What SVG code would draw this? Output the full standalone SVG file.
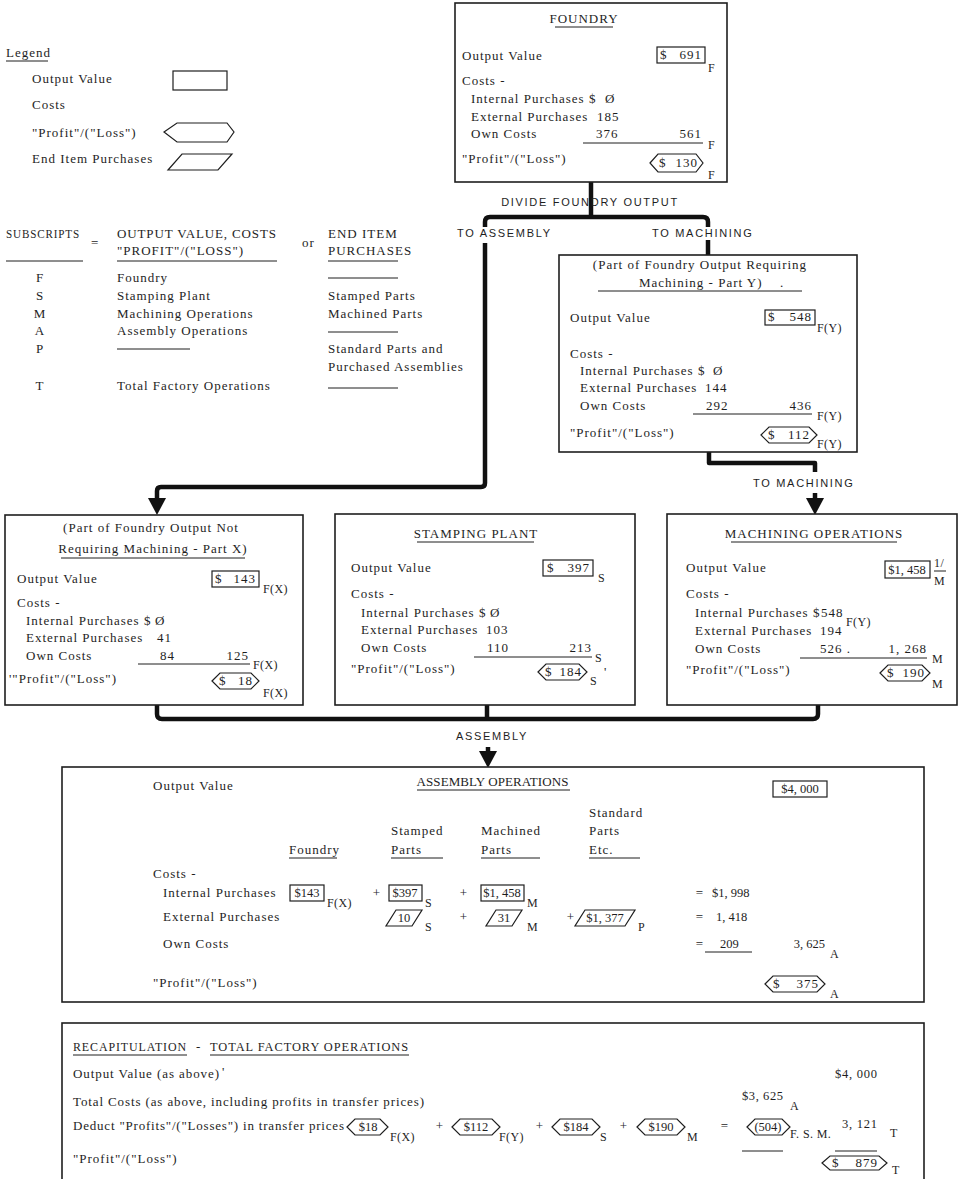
<svg xmlns="http://www.w3.org/2000/svg" width="961" height="1179" viewBox="0 0 961 1179">
<style>
text{font-family:"Liberation Serif","Times New Roman",serif;font-size:13px;letter-spacing:1px;fill:#1e1e1e}
.sub{font-size:12px;letter-spacing:0.4px}
.sans{font-family:"Liberation Sans",Arial,sans-serif;font-size:11px;letter-spacing:1.7px}
.mid{text-anchor:middle}
.end{text-anchor:end}
.cond{letter-spacing:0px;font-size:12.5px}
.box{fill:#fff;stroke:#1e1e1e;stroke-width:1.6}
.fr{fill:none;stroke:#1e1e1e;stroke-width:1.2}
.ln{stroke:#1e1e1e;stroke-width:1}
.conn{fill:none;stroke:#111;stroke-width:4.5;stroke-linejoin:round;stroke-linecap:butt}
.arrow{fill:#111}
</style>
<rect width="961" height="1179" fill="#fff"/>

<!-- legend -->
<g id="legend">
<text x="6" y="57">Legend</text>
<line class="ln" x1="6" y1="61" x2="48" y2="61"/>
<text x="32" y="83">Output Value</text>
<rect class="fr" x="173" y="71" width="54" height="19"/>
<text x="32" y="109">Costs</text>
<text x="32" y="137">"Profit"/("Loss")</text>
<polygon class="fr" points="164,132 177,123 227,123 234,132 227,142 177,142"/>
<text x="32" y="163">End Item Purchases</text>
<polygon class="fr" points="182,154 232,154 218,170 168,170"/>
</g>

<!-- subscript key -->
<g id="subscripts">
<text x="6" y="238" textLength="74" lengthAdjust="spacingAndGlyphs">SUBSCRIPTS</text>
<line class="ln" x1="6" y1="261" x2="83" y2="261"/>
<text x="91" y="247">=</text>
<text x="117" y="238" textLength="160">OUTPUT VALUE, COSTS</text>
<text x="117" y="255">"PROFIT"/("LOSS")</text>
<line class="ln" x1="117" y1="261" x2="277" y2="261"/>
<text x="302" y="247">or</text>
<text x="328" y="238">END ITEM</text>
<text x="328" y="255">PURCHASES</text>
<line class="ln" x1="328" y1="261" x2="398" y2="261"/>
<text class="mid" x="40" y="282">F</text>
<text class="mid" x="40" y="300">S</text>
<text class="mid" x="40" y="318">M</text>
<text class="mid" x="40" y="335">A</text>
<text class="mid" x="40" y="353">P</text>
<text class="mid" x="40" y="390">T</text>
<text x="117" y="282">Foundry</text>
<text x="117" y="300">Stamping Plant</text>
<text x="117" y="318">Machining Operations</text>
<text x="117" y="335">Assembly Operations</text>
<line class="ln" x1="117" y1="349" x2="190" y2="349"/>
<text x="117" y="390">Total Factory Operations</text>
<line class="ln" x1="328" y1="278" x2="398" y2="278"/>
<text x="328" y="300">Stamped Parts</text>
<text x="328" y="318">Machined Parts</text>
<line class="ln" x1="328" y1="332" x2="398" y2="332"/>
<text x="328" y="353">Standard Parts and</text>
<text x="328" y="371">Purchased Assemblies</text>
<line class="ln" x1="328" y1="388" x2="398" y2="388"/>
</g>

<!-- connectors -->
<g id="connectors">
<path class="conn" d="M591,182 V217"/>
<path class="conn" d="M485,227 V222 Q485,217 490,217 H703 Q708,217 708,222 V227"/>
<path class="conn" d="M485,243 V483 Q485,487 481,487 H161 Q157,487 157,491 V500"/>
<polygon class="arrow" points="148,498 166,498 157,515"/>
<path class="conn" d="M708,240 V256"/>
<path class="conn" d="M709,452 V463 H815 V472"/>
<path class="conn" d="M815,493 V500"/>
<polygon class="arrow" points="806,498 824,498 815,515"/>
<path class="conn" d="M157,705 V714 Q157,719 162,719 H813 Q818,719 818,714 V705"/>
<path class="conn" d="M487,705 V719"/>
<path class="conn" d="M488,747 V753"/>
<polygon class="arrow" points="479,751 497,751 488,768"/>
<text class="sans mid" x="590" y="206">DIVIDE FOUNDRY OUTPUT</text>
<text class="sans" x="457" y="237">TO ASSEMBLY</text>
<text class="sans" x="652" y="237">TO MACHINING</text>
<text class="sans" x="753" y="487">TO MACHINING</text>
<text class="sans mid" x="492" y="740">ASSEMBLY</text>
</g>

<!-- foundry -->
<g id="foundry">
<rect class="box" x="455" y="3" width="272" height="179"/>
<text class="mid" x="584" y="23">FOUNDRY</text>
<line class="ln" x1="555" y1="27" x2="613" y2="27"/>
<text x="462" y="60">Output Value</text>
<rect class="fr" x="657" y="47" width="48" height="16"/>
<text x="660" y="59">$</text>
<text class="end" x="702" y="59">691</text>
<text class="sub" x="708" y="72">F</text>
<text x="462" y="85">Costs -</text>
<text x="471" y="103">Internal Purchases $</text>
<text x="605" y="103">Ø</text>
<text x="471" y="121">External Purchases</text>
<text x="597" y="121">185</text>
<text x="471" y="138">Own Costs</text>
<text x="596" y="138">376</text>
<text class="end" x="702" y="138">561</text>
<line class="ln" x1="583" y1="143" x2="703" y2="143"/>
<text class="sub" x="708" y="149">F</text>
<text x="462" y="163">"Profit"/("Loss")</text>
<polygon class="fr" points="650,163 658,154 696,154 703,163 696,172 658,172"/>
<text x="659" y="167">$</text>
<text class="end" x="698" y="167">130</text>
<text class="sub" x="708" y="179">F</text>
</g>

<!-- foundry output, part Y -->
<g id="part-y">
<rect class="box" x="559" y="255" width="298" height="197"/>
<text class="mid" x="700" y="269">(Part of Foundry Output Requiring</text>
<text x="639" y="287">Machining - Part Y)</text>
<text x="780" y="287">.</text>
<line class="ln" x1="598" y1="291" x2="802" y2="291"/>
<text x="570" y="322">Output Value</text>
<rect class="fr" x="765" y="310" width="50" height="15"/>
<text x="768" y="321">$</text>
<text class="end" x="812" y="321">548</text>
<text class="sub" x="817" y="332">F(Y)</text>
<text x="570" y="358">Costs -</text>
<text x="580" y="375">Internal Purchases $</text>
<text x="713" y="375">Ø</text>
<text x="580" y="392">External Purchases</text>
<text x="705" y="392">144</text>
<text x="580" y="410">Own Costs</text>
<text x="706" y="410">292</text>
<text class="end" x="812" y="410">436</text>
<line class="ln" x1="693" y1="414" x2="812" y2="414"/>
<text class="sub" x="817" y="420">F(Y)</text>
<text x="570" y="437">"Profit"/("Loss")</text>
<polygon class="fr" points="761,435 769,427 809,427 817,435 809,443 769,443"/>
<text x="768" y="439">$</text>
<text class="end" x="810" y="439">112</text>
<text class="sub" x="817" y="448">F(Y)</text>
</g>

<!-- foundry output, part X -->
<g id="part-x">
<rect class="box" x="5" y="515" width="298" height="190"/>
<text class="mid" x="151" y="532">(Part of Foundry Output Not</text>
<text class="mid" x="153" y="553">Requiring Machining - Part X)</text>
<line class="ln" x1="61" y1="558" x2="245" y2="558"/>
<text x="17" y="583">Output Value</text>
<rect class="fr" x="212" y="571" width="47" height="16"/>
<text x="215" y="583">$</text>
<text class="end" x="256" y="583">143</text>
<text class="sub" x="263" y="593">F(X)</text>
<text x="17" y="607">Costs -</text>
<text x="26" y="625">Internal Purchases $</text>
<text x="155" y="625">Ø</text>
<text x="26" y="642">External Purchases</text>
<text x="157" y="642">41</text>
<text x="26" y="660">Own Costs</text>
<text x="160" y="660">84</text>
<text class="end" x="249" y="660">125</text>
<line class="ln" x1="138" y1="664" x2="250" y2="664"/>
<text class="sub" x="253" y="669">F(X)</text>
<text x="9" y="683">'"Profit"/("Loss")</text>
<polygon class="fr" points="212,681 220,673 251,673 259,681 251,689 220,689"/>
<text x="219" y="685">$</text>
<text class="end" x="253" y="685">18</text>
<text class="sub" x="263" y="697">F(X)</text>
</g>

<!-- stamping plant -->
<g id="stamping">
<rect class="box" x="335" y="514" width="300" height="191"/>
<text class="mid" x="476" y="538">STAMPING PLANT</text>
<line class="ln" x1="417" y1="542" x2="534" y2="542"/>
<text x="351" y="572">Output Value</text>
<rect class="fr" x="543" y="560" width="50" height="16"/>
<text x="547" y="572">$</text>
<text class="end" x="590" y="572">397</text>
<text class="sub" x="598" y="582">S</text>
<text x="351" y="598">Costs -</text>
<text x="361" y="617">Internal Purchases $</text>
<text x="490" y="617">Ø</text>
<text x="361" y="634">External Purchases</text>
<text x="486" y="634">103</text>
<text x="361" y="652">Own Costs</text>
<text x="487" y="652">110</text>
<text class="end" x="592" y="652">213</text>
<line class="ln" x1="474" y1="657" x2="592" y2="657"/>
<text class="sub" x="595" y="662">S</text>
<text x="351" y="673">"Profit"/("Loss")</text>
<polygon class="fr" points="538,672 546,664 579,664 587,672 579,680 546,680"/>
<text x="545" y="676">$</text>
<text class="end" x="582" y="676">184</text>
<text class="sub" x="590" y="685">S</text>
<text x="604" y="676">'</text>
</g>

<!-- machining operations -->
<g id="machining">
<rect class="box" x="667" y="514" width="290" height="191"/>
<text class="mid" x="814" y="538">MACHINING OPERATIONS</text>
<line class="ln" x1="731" y1="542" x2="897" y2="542"/>
<text x="686" y="572">Output Value</text>
<rect class="fr" x="885" y="561" width="45" height="17"/>
<text class="mid cond" x="907" y="574">$1, 458</text>
<text class="sub" x="934" y="567">1/</text>
<line class="ln" x1="934" y1="571" x2="946" y2="571"/>
<text class="sub" x="934" y="585">M</text>
<text x="686" y="598">Costs -</text>
<text x="695" y="617">Internal Purchases $</text>
<text x="821" y="617">548</text>
<text class="sub" x="846" y="626">F(Y)</text>
<text x="695" y="635">External Purchases</text>
<text x="820" y="635">194</text>
<text x="695" y="653">Own Costs</text>
<text x="820" y="653">526 .</text>
<text class="end" x="927" y="653">1, 268</text>
<line class="ln" x1="800" y1="658" x2="927" y2="658"/>
<text class="sub" x="932" y="663">M</text>
<text x="686" y="674">"Profit"/("Loss")</text>
<polygon class="fr" points="880,673 888,665 922,665 930,673 922,681 888,681"/>
<text x="887" y="677">$</text>
<text class="end" x="925" y="677">190</text>
<text class="sub" x="932" y="688">M</text>
</g>

<!-- assembly operations -->
<g id="assembly">
<rect class="box" x="62" y="767" width="862" height="235"/>
<text x="153" y="790">Output Value</text>
<text class="mid" x="493" y="786" textLength="153">ASSEMBLY OPERATIONS</text>
<line class="ln" x1="417" y1="790" x2="570" y2="790"/>
<rect class="fr" x="773" y="781" width="54" height="16"/>
<text class="mid cond" x="800" y="793">$4, 000</text>
<text x="589" y="817">Standard</text>
<text x="391" y="835">Stamped</text>
<text x="481" y="835">Machined</text>
<text x="589" y="835">Parts</text>
<text x="289" y="854">Foundry</text>
<line class="ln" x1="289" y1="858" x2="337" y2="858"/>
<text x="391" y="854">Parts</text>
<line class="ln" x1="391" y1="858" x2="443" y2="858"/>
<text x="481" y="854">Parts</text>
<line class="ln" x1="481" y1="858" x2="540" y2="858"/>
<text x="589" y="854">Etc.</text>
<line class="ln" x1="589" y1="858" x2="640" y2="858"/>
<text x="153" y="878">Costs -</text>
<text x="163" y="897">Internal Purchases</text>
<rect class="fr" x="290" y="885" width="34" height="16"/>
<text class="mid cond" x="307" y="897">$143</text>
<text class="sub" x="327" y="907">F(X)</text>
<text class="mid" x="377" y="897">+</text>
<rect class="fr" x="389" y="885" width="33" height="16"/>
<text class="mid cond" x="405" y="897">$397</text>
<text class="sub" x="425" y="907">S</text>
<text class="mid" x="464" y="897">+</text>
<rect class="fr" x="481" y="885" width="43" height="16"/>
<text class="mid cond" x="502" y="897">$1, 458</text>
<text class="sub" x="527" y="907">M</text>
<text class="mid" x="700" y="897">=</text>
<text class="cond" x="712" y="897">$1, 998</text>
<text x="163" y="921">External Purchases</text>
<polygon class="fr" points="396,910 422,910 412,926 386,926"/>
<text class="mid cond" x="404" y="922">10</text>
<text class="sub" x="425" y="931">S</text>
<text class="mid" x="464" y="921">+</text>
<polygon class="fr" points="496,910 522,910 512,926 486,926"/>
<text class="mid cond" x="504" y="922">31</text>
<text class="sub" x="527" y="931">M</text>
<text class="mid" x="571" y="921">+</text>
<polygon class="fr" points="585,910 635,910 625,926 575,926"/>
<text class="mid cond" x="605" y="922">$1, 377</text>
<text class="sub" x="638" y="931">P</text>
<text class="mid" x="700" y="921">=</text>
<text class="cond" x="716" y="921">1, 418</text>
<text x="163" y="948">Own Costs</text>
<text class="mid" x="700" y="948">=</text>
<text class="cond" x="720" y="948">209</text>
<line class="ln" x1="705" y1="952" x2="752" y2="952"/>
<text class="cond end" x="825" y="948">3, 625</text>
<text class="sub" x="830" y="958">A</text>
<text x="153" y="987">"Profit"/("Loss")</text>
<polygon class="fr" points="765,984 773,976 817,976 825,984 817,992 773,992"/>
<text x="773" y="988">$</text>
<text class="end" x="819" y="988">375</text>
<text class="sub" x="830" y="998">A</text>
</g>

<!-- recapitulation -->
<g id="recap">
<rect class="box" x="62" y="1023" width="862" height="170"/>
<text x="73" y="1051" textLength="114" lengthAdjust="spacingAndGlyphs">RECAPITULATION</text>
<line class="ln" x1="73" y1="1055" x2="187" y2="1055"/>
<text x="196" y="1051">-</text>
<text x="210" y="1051" textLength="199" lengthAdjust="spacingAndGlyphs">TOTAL FACTORY OPERATIONS</text>
<line class="ln" x1="210" y1="1055" x2="409" y2="1055"/>
<text x="73" y="1078" textLength="147">Output Value (as above)</text>
<text x="222" y="1076">'</text>
<text class="cond" x="835" y="1078" textLength="42">$4, 000</text>
<text x="73" y="1106" textLength="352">Total Costs (as above, including profits in transfer prices)</text>
<text class="cond" x="742" y="1100" textLength="41">$3, 625</text>
<text class="sub" x="790" y="1110">A</text>
<text x="73" y="1130" textLength="272">Deduct "Profits"/("Losses") in transfer prices</text>
<polygon class="fr" points="347,1127 355,1119 380,1119 388,1127 380,1135 355,1135"/>
<text class="mid cond" x="368" y="1131">$18</text>
<text class="sub" x="390" y="1141">F(X)</text>
<text class="mid" x="440" y="1130">+</text>
<polygon class="fr" points="452,1127 460,1119 492,1119 500,1127 492,1135 460,1135"/>
<text class="mid cond" x="476" y="1131">$112</text>
<text class="sub" x="499" y="1141">F(Y)</text>
<text class="mid" x="540" y="1130">+</text>
<polygon class="fr" points="552,1127 560,1119 592,1119 600,1127 592,1135 560,1135"/>
<text class="mid cond" x="576" y="1131">$184</text>
<text class="sub" x="600" y="1141">S</text>
<text class="mid" x="624" y="1130">+</text>
<polygon class="fr" points="637,1127 645,1119 677,1119 685,1127 677,1135 645,1135"/>
<text class="mid cond" x="661" y="1131">$190</text>
<text class="sub" x="687" y="1141">M</text>
<text class="mid" x="725" y="1130">=</text>
<polygon class="fr" points="747,1127 755,1119 782,1119 790,1127 782,1135 755,1135"/>
<text class="mid cond" x="768" y="1131">(504)</text>
<text class="sub" x="790" y="1138">F. S. M.</text>
<line class="ln" x1="742" y1="1151" x2="783" y2="1151"/>
<text class="cond" x="842" y="1128" textLength="35">3, 121</text>
<text class="sub" x="890" y="1137">T</text>
<text x="73" y="1163">"Profit"/("Loss")</text>
<line class="ln" x1="835" y1="1151" x2="877" y2="1151"/>
<polygon class="fr" points="822,1163 830,1156 879,1156 887,1163 879,1170 830,1170"/>
<text x="832" y="1167">$</text>
<text class="end" x="878" y="1167">879</text>
<text class="sub" x="892" y="1174">T</text>
</g>
</svg>
